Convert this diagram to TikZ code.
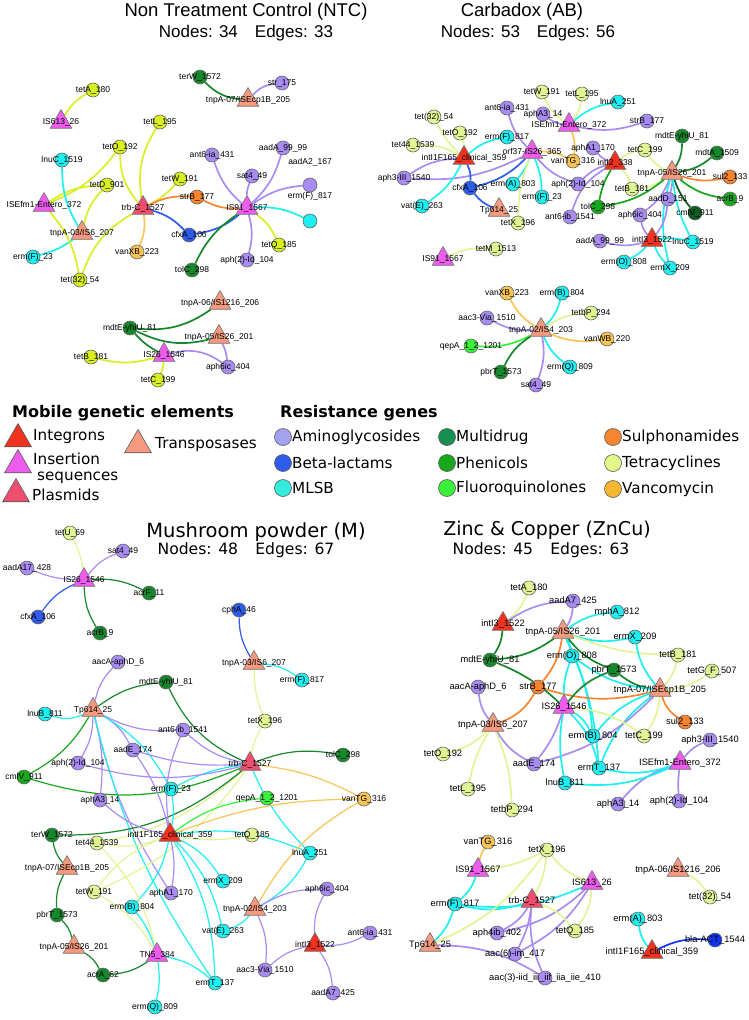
\documentclass[tikz,border=0pt]{standalone}
\usepackage{fontspec}
\setmainfont{Liberation Sans}
\newfontfamily\dvs{DejaVu Sans}
\usetikzlibrary{shapes.geometric,backgrounds}

% gene classes
\definecolor{amg}{HTML}{A88CF2}
\definecolor{bla}{HTML}{2F5BEA}
\definecolor{bltwo}{HTML}{1034F0}
\definecolor{mls}{HTML}{1EEFF0}
\definecolor{mdr}{HTML}{17872C}
\definecolor{dkg}{HTML}{0D5A22}
\definecolor{phe}{HTML}{18A81C}
\definecolor{flq}{HTML}{3AF03A}
\definecolor{sul}{HTML}{F7842F}
\definecolor{tet}{HTML}{E0F595}
\definecolor{tetb}{HTML}{D8EF22}
\definecolor{van}{HTML}{F8C456}
% mobile elements
\definecolor{intg}{HTML}{F0321E}
\definecolor{inseq}{HTML}{EE5CEE}
\definecolor{plas}{HTML}{EE4F6E}
\definecolor{tnp}{HTML}{F59A7E}
% legend
\definecolor{lamg}{HTML}{A3A3F2}
\definecolor{lmls}{HTML}{35EBDD}
\definecolor{lmdr}{HTML}{14904F}
\definecolor{ltet}{HTML}{E3F88B}
\definecolor{lvan}{HTML}{F5B731}

\tikzset{
	gn/.style={circle,draw=black!60,line width=.6pt,minimum size=14pt,inner sep=0pt},
	mge/.style={regular polygon,regular polygon sides=3,draw=black!55,line width=.6pt,minimum size=25pt,inner sep=0pt},
	lb/.style={font=\fontsize{8.5}{9}\selectfont,inner sep=0pt},
	ed/.style={line width=1.7pt},
	ttl/.style={font=\fontsize{18.5}{20}\selectfont},
	cnt/.style={font=\fontsize{17}{18}\selectfont},
	ttlb/.style={font=\dvs\fontsize{19.5}{21}\selectfont},
	cntb/.style={font=\dvs\fontsize{15.6}{17}\selectfont},
	lgh/.style={font=\dvs\bfseries\fontsize{16}{18}\selectfont,anchor=west,inner sep=0pt},
	lgt/.style={font=\dvs\fontsize{15.2}{16}\selectfont,anchor=west,inner sep=0pt,align=left},
	lgc/.style={circle,draw=black!65,line width=.6pt,minimum size=17pt,inner sep=0pt},
	lgm/.style={regular polygon,regular polygon sides=3,draw=black!65,line width=.6pt,minimum size=31pt,inner sep=0pt},
}

\begin{document}
\begin{tikzpicture}[x=1pt,y=-1pt]
	\useasboundingbox (0,0) rectangle (749,1020);

	% Non Treatment Control
	\node[ttl] (ntcT) at (246,12) {Non Treatment Control (NTC)};
	\node[cnt] (ntcN) at (246,33) {Nodes: 34\hspace{1em}Edges: 33};
	\foreach \nm/\x/\y/\col/\lab in {
		nterW/200/77/mdr/terW\_1572, nstr/282/83/amg/str\_175, ntetA/93/90/tetb/tetA\_180,
		ntetL/160/122/tetb/tetL\_195, ntetO/120/147/tetb/tetO\_192, nInuC/62/160/mls/lnuC\_1519,
		nant/212/155/amg/ant6-ia\_431, naadA/283/148/amg/aadA\_99\_99, ntetW/180/179/tetb/tetW\_191,
		nsat/252/176/amg/sat4\_49, ntetD/107/185/tetb/tetD\_901, nstrB/197/197/sul/strB\_177,
		ncfxA/189/235/bla/cfxA\_106, ntetQ/279/245/tetb/tetQ\_185, nvanXB/137/252/van/vanXB\_223,
		nermF/33/257/mls/erm(F)\_23, naph/247/260/amg/aph(2)-Id\_104, ntolC/192/270/mdr/tolC\_298,
		ntet32/80/280/tetb/tet(32)\_54, nmdtE/130/328/mdr/mdtE-yhiU\_81, ntetB/91/357/tetb/tetB\_181,
		naph6/228/367/amg/aph6ic\_404, ntetC/158/380/tetb/tetC\_199}
		\node[gn,fill=\col,label={[lb]center:\lab}] (\nm) at (\x,\y) {};
	\node[gn,fill=amg,label={[lb,yshift=23pt]center:aadA2\_167}] (naadAtwo) at (310,185) {};
	\node[gn,fill=mls,label={[lb,yshift=25pt]center:erm(F)\_817}] (ncyan) at (310,221) {};
	\foreach \nm/\x/\y/\col/\lab in {
		ntnp7/248/100/tnp/{tnpA-07/ISEcp1B\_205}, nIS613/61/122/inseq/IS613\_26,
		nISE/44/205/inseq/ISEfm1-Entero\_372, ntrb/143/208/plas/trb-C\_1527,
		nIS91/247/208/inseq/IS91\_1567, ntnp3/82/233/tnp/{tnpA-03/IS6\_207},
		ntnp6/220/303/tnp/{tnpA-06/IS1216\_206}, ntnp5/219/337/tnp/{tnpA-05/IS26\_201},
		nIS26/164/355/inseq/IS26\_1546}
		\node[mge,fill=\col,label={[lb]center:\lab}] (\nm) at (\x,\y) {};
	\begin{scope}[on background layer]
		\foreach \a/\b/\col/\bd in {
			ntnp7/nterW/mdr/20, ntnp7/nstr/amg/20, nIS613/ntetA/tetb/15, ntrb/ntetO/tetb/20,
			nISE/ntetO/tetb/-15, ntrb/ntetL/tetb/20, ntrb/ntetW/tetb/-10, nISE/ntetD/tetb/15,
			ntnp3/ntetD/tetb/15, ntnp3/nInuC/mls/15, ntnp3/nermF/mls/10, nISE/ntet32/tetb/15,
			ntrb/ntet32/tetb/-20, ntrb/nstrB/sul/15, nIS91/nstrB/sul/15, ntrb/nvanXB/van/15,
			ntrb/ncfxA/bla/15, nIS91/ncfxA/bla/15, nIS91/ntolC/mdr/-15, nIS91/nant/amg/15,
			nIS91/nsat/amg/10, nIS91/naadA/amg/-15, nIS91/naadAtwo/amg/15, nIS91/ncyan/mls/15,
			nIS91/ntetQ/tetb/15, nIS91/naph/amg/15, ntnp6/nmdtE/mdr/20, ntnp5/nmdtE/mdr/20,
			nIS26/nmdtE/mdr/10, nIS26/ntetB/tetb/15, nIS26/ntetC/tetb/10, nIS26/naph6/amg/25,
			ntnp5/naph6/amg/10}
			\draw[ed,draw=\col] (\a) to[bend left=\bd] (\b);
	\end{scope}

	% Carbadox
	\node[ttl] (abT) at (522,12) {Carbadox (AB)};
	\node[cnt] (abN) at (528,33) {Nodes: 53\hspace{1em}Edges: 56};
	\foreach \nm/\x/\y/\col/\lab in {
		atetW/542/92/tet/tetW\_191, atetL/582/94/tet/tetL\_195, aInuA/618/102/mls/lnuA\_251,
		aant/507/108/amg/ant6-ia\_431, aaphA3/543/114/amg/aphA3\_14, atet32/434/117/tet/tet(32)\_54,
		astrB/647/121/amg/strB\_177, atetO/460/133/tet/tetO\_192, aermF8/507/137/mls/erm(F)\_817,
		amdtE/682/136/mdr/mdtE-yhiU\_81, atet44/413/145/tet/tet44\_1539, amdtA/717/153/mdr/mdtA\_1509,
		aaphA1/593/148/amg/aphA1\_170, atetC/645/150/tet/tetC\_199, avanTG/573/161/van/vanTG\_316,
		asul/730/177/sul/sul2\_133, aaph3/404/178/amg/aph3-III\_1540, acfxA/470/188/bla/cfxA\_106,
		aermA/513/184/mls/erm(A)\_803, aaph2/578/184/amg/aph(2)-Id\_104, atetB/632/189/tet/tetB\_181,
		aacrB/730/199/phe/acrB\_9, aaadD/668/199/amg/aadD\_151, aermF2/542/197/mls/erm(F)\_23,
		avatE/422/206/mls/vat(E)\_263, atolC/598/207/phe/tolC\_298, acmlV/695/213/dkg/cmlV\_911,
		aaph6/640/215/amg/aph6ic\_404, atetX/518/223/tet/tetX\_196, aant6b/570/217/amg/ant6-ib\_1541,
		aaadA/600/241/amg/aadA\_99\_99, aInuC/693/242/mls/lnuC\_1519, atetM/496/249/tet/tetM\_1513,
		aermO/624/262/mls/erm(O)\_808, aermX/670/268/mls/ermX\_209, avanXB/507/293/van/vanXB\_223,
		aermB/562/293/mls/erm(B)\_804, atetbP/591/313/tet/tetbP\_294, aaac3/487/318/amg/aac3-Via\_1510,
		avanWB/607/339/van/vanWB\_220, aqepA/471/346/flq/qepA\_1\_2\_1201, aermQ/570/367/mls/erm(Q)\_809,
		apbrT/501/372/mdr/pbrT\_1573, asat/536/385/amg/sat4\_49}
		\node[gn,fill=\col,label={[lb]center:\lab}] (\nm) at (\x,\y) {};
	\foreach \nm/\x/\y/\col/\lab in {
		aISE/569/125/inseq/ISEfm1-Entero\_372, aorf/532/152/inseq/orf37-IS26\_365,
		aint1/464/158/intg/intI1F165\_clinical\_359, aint2/615/163/intg/intI2\_338,
		atnp5/672/173/tnp/{tnpA-05/IS26\_201}, aTp/499/210/tnp/Tp614\_25,
		aint3/652/240/intg/intI3\_1522, aIS91/443/259/inseq/IS91\_1567,
		atnp2/541/330/tnp/{tnpA-02/IS4\_203}}
		\node[mge,fill=\col,label={[lb]center:\lab}] (\nm) at (\x,\y) {};
	\begin{scope}[on background layer]
		\foreach \a/\b/\col/\bd in {
			aISE/atetW/tet/15, aISE/atetL/tet/-15, aISE/aInuA/mls/15, aISE/aaphA3/amg/15,
			aISE/astrB/amg/-15, aISE/avanTG/van/15, aorf/aant/amg/15, aorf/aermA/mls/10,
			aorf/aermF2/mls/10, aorf/acfxA/bla/15, aorf/atetX/tet/-10, aorf/aaph2/amg/-15,
			aorf/avanTG/van/15, aorf/aaph3/amg/15, aint1/atet32/tet/10, aint1/atetO/tet/-10,
			aint1/atet44/tet/-15, aint1/aermF8/mls/15, aint1/aaph3/amg/-15, aint1/acfxA/bla/15,
			aint1/avatE/mls/15, aTp/acfxA/bla/15, aint2/aaphA1/amg/15, aint2/aaph2/amg/-15,
			aint2/atetB/tet/15, aint2/atolC/phe/-10, aint2/atetC/tet/15, aint2/aant6b/amg/-20,
			atnp5/amdtE/mdr/-15, atnp5/amdtA/mdr/-15, atnp5/asul/sul/-15, atnp5/aacrB/phe/-15,
			atnp5/acmlV/dkg/-10, atnp5/aaadD/amg/10, atnp5/atetB/tet/15, atnp5/atolC/phe/15,
			atnp5/aaph6/amg/15, atnp5/aInuC/mls/-10, atnp5/aermX/mls/-15, atnp5/atetC/tet/15,
			aint3/aaadA/amg/15, aint3/aaadD/amg/-15, aint3/aaph6/amg/15, aint3/aInuC/mls/10,
			aint3/aermO/mls/10, aint3/aermX/mls/-10, aIS91/atetM/tet/15, atnp2/avanXB/van/15,
			atnp2/aermB/mls/-15, atnp2/atetbP/tet/15, atnp2/aaac3/amg/15, atnp2/avanWB/van/-15,
			atnp2/aqepA/flq/15, atnp2/aermQ/mls/-15, atnp2/apbrT/mdr/-15, atnp2/asat/amg/15}
			\draw[ed,draw=\col] (\a) to[bend left=\bd] (\b);
	\end{scope}

	% legend
	\node[lgh] (mgeT) at (12,413) {Mobile genetic elements};
	\node[lgh] (resT) at (280,413) {Resistance genes};
	\node[lgm,fill=intg] (lgInt) at (18,439) {};
	\node[lgt] (lgIntT) at (33,437) {Integrons};
	\node[lgm,fill=inseq] (lgIns) at (18,465) {};
	\node[lgt] (lgInsT) at (33,468) {Insertion\\\hspace*{4pt}sequences};
	\node[lgm,fill=plas] (lgPla) at (16,494) {};
	\node[lgt] (lgPlaT) at (32,495) {Plasmids};
	\node[lgm,fill=tnp] (lgTnp) at (138,445) {};
	\node[lgt] (lgTnpT) at (155,445) {Transposases};
	\foreach \nm/\x/\y/\col/\lab in {
		lgA/283/437/lamg/Aminoglycosides, lgB/283/463/bla/Beta-lactams, lgM/283/488/lmls/MLSB,
		lgD/447/437/lmdr/Multidrug, lgP/447/463/phe/Phenicols, lgF/447/488/flq/Fluoroquinolones,
		lgS/613/437/sul/Sulphonamides, lgT/613/463/ltet/Tetracyclines, lgV/613/489/lvan/Vancomycin}
	{
		\node[lgc,fill=\col] (\nm) at (\x,\y) {};
		\node[lgt] at (\x+9,\y) {\lab};
	}

	% Mushroom powder
	\node[ttlb] (mT) at (256,532) {Mushroom powder (M)};
	\node[cntb] (mN) at (246,550) {Nodes: 48\hspace{1.1em}Edges: 67};
	\foreach \nm/\x/\y/\col/\lab in {
		mtetU/70/533/tet/tetU\_69, msat/123/551/amg/sat4\_49, maadA17/27/568/amg/aadA17\_428,
		macrF/149/593/mdr/acrF\_11, mcfxA/38/617/bla/cfxA\_106, mcphA/239/610/bla/cphA\_46,
		macrB/100/633/mdr/acrB\_9, maacA/118/662/amg/aacA-aphD\_6, mmdtE/166/682/mdr/mdtE-yhiU\_81,
		mermF8/302/680/mls/erm(F)\_817, mInuB/45/714/mls/lnuB\_811, mtetX/265/721/tet/tetX\_196,
		mant6b/183/730/amg/ant6-ib\_1541, maadE/133/750/amg/aadE\_174, mtolC/343/755/mdr/tolC\_298,
		maph2/78/763/amg/aph(2)-Id\_104, mcmlV/24/777/phe/cmlV\_911, mermF2/171/789/mls/erm(F)\_23,
		mqepA/267/798/flq/qepA\_1\_2\_1201, mvanTG/364/799/van/vanTG\_316, maphA3/100/800/amg/aphA3\_14,
		mterW/52/835/mdr/terW\_1572, mtet44/97/843/tet/tet44\_1539, mtetQ/252/835/tet/tetQ\_185,
		mInuA/310/853/mls/lnuA\_251, mermX/223/881/mls/ermX\_209, maph6/327/889/amg/aph6ic\_404,
		mtetW/94/892/tet/tetW\_191, maphA1/171/893/amg/aphA1\_170, mermB/132/907/mls/erm(B)\_804,
		mpbrT/57/915/mdr/pbrT\_1573, mvatE/223/931/mls/vat(E)\_263, mant6a/370/933/amg/ant6-ia\_431,
		macrA/103/975/mdr/acrA\_62, maac3/265/970/amg/aac3-Via\_1510, mermT/215/983/mls/ermT\_137,
		maadA7/333/993/amg/aadA7\_425, mermQ/155/1007/mls/erm(Q)\_809}
		\node[gn,fill=\col,label={[lb]center:\lab}] (\nm) at (\x,\y) {};
	\foreach \nm/\x/\y/\col/\lab in {
		mIS26/84/580/inseq/IS26\_1546, mtnp3/254/663/tnp/{tnpA-03/IS6\_207}, mTp/93/710/tnp/Tp614\_25,
		mtrb/250/764/plas/trb-C\_1527, mint1/170/835/intg/intI1F165\_clinical\_359,
		mtnp7/67/868/tnp/{tnpA-07/ISEcp1B\_205}, mtnp2/255/909/tnp/{tnpA-02/IS4\_203},
		mtnp5/74/947/tnp/{tnpA-05/IS26\_201}, mint3/315/945/intg/intI3\_1522, mTN5/157/955/inseq/TN5\_384}
		\node[mge,fill=\col,label={[lb]center:\lab}] (\nm) at (\x,\y) {};
	\begin{scope}[on background layer,ed/.append style={line width=1.2pt}]
		\foreach \a/\b/\col/\bd in {
			mIS26/mtetU/tet/-10, mIS26/msat/amg/15, mIS26/maadA17/amg/10, mIS26/macrF/mdr/15,
			mIS26/mcfxA/bla/-15, mIS26/macrB/mdr/-15, mtnp3/mcphA/bla/15, mtnp3/mermF8/mls/15,
			mtnp3/mtetX/tet/-10, mTp/maacA/amg/15, mTp/mmdtE/mdr/15, mTp/mInuB/mls/20,
			mTp/mcmlV/phe/15, mTp/maph2/amg/15, mTp/maadE/amg/15, mTp/mant6b/amg/-15,
			mTp/mermF2/mls/15, mTp/maphA3/amg/10, mTp/maphA1/amg/-10, mTp/mermT/mls/-10,
			mtrb/mmdtE/mdr/20, mtrb/mtetX/tet/10, mtrb/mtolC/mdr/15, mtrb/mant6b/amg/15,
			mtrb/maadE/amg/10, mtrb/mcmlV/phe/20, mtrb/mermF2/mls/-10, mtrb/mvanTG/van/10,
			mtrb/mtet44/tet/15, mtrb/mtetW/tet/15, mtrb/mInuA/mls/-10, mtrb/mterW/mdr/20,
			mtrb/maph2/amg/15, mint1/maphA3/amg/15, mint1/mtet44/tet/15, mint1/mtetQ/tet/-10,
			mint1/mqepA/flq/15, mint1/mvanTG/van/10, mint1/mInuA/mls/15, mint1/mermX/mls/15,
			mint1/mvatE/mls/15, mint1/mermT/mls/15, mint1/maphA1/amg/10, mint1/mermB/mls/15,
			mint1/mtetW/tet/-15, mint1/mant6b/amg/15, mint1/maadE/amg/-10, mint1/mermF2/mls/-10,
			mtnp7/mterW/mdr/15, mtnp7/mpbrT/mdr/-15, mtnp5/mpbrT/mdr/-15, mtnp5/macrA/mdr/15,
			mTN5/macrA/mdr/15, mTN5/mermQ/mls/10, mTN5/mermT/mls/15, mTN5/mermB/mls/-10,
			mTN5/mtetW/tet/-15, mTN5/mtet44/tet/-15, mtnp2/mInuA/mls/-15, mtnp2/mvanTG/van/15,
			mtnp2/maph6/amg/15, mtnp2/maac3/amg/15, mtnp2/mvatE/mls/15, mint3/maac3/amg/-15,
			mint3/mant6a/amg/-15, mint3/maadA7/amg/15, mint3/maph6/amg/15}
			\draw[ed,draw=\col] (\a) to[bend left=\bd] (\b);
	\end{scope}

	% Zinc & Copper
	\node[ttlb,font=\dvs\fontsize{19}{21}\selectfont] (zT) at (547,530) {Zinc \& Copper (ZnCu)};
	\node[cntb] (zN) at (541,550) {Nodes: 45\hspace{1.1em}Edges: 63};
	\foreach \nm/\x/\y/\col/\lab in {
		ztetA/529/588/tet/tetA\_180, zaadA7/573/601/amg/aadA7\_425, zmphA/617/612/mls/mphA\_812,
		zermX/635/637/mls/ermX\_209, zmdtE/490/660/mdr/mdtE-yhiU\_81, zermO/572/656/mls/erm(O)\_808,
		ztetB/678/655/tet/tetB\_181, zpbrT/614/670/mdr/pbrT\_1573, ztetG/712/671/tet/tetG\_F\_507,
		zstrB/538/687/sul/strB\_177, zaacA/478/687/amg/aacA-aphD\_6, zsul/685/722/sul/sul2\_133,
		zermB/593/736/mls/erm(B)\_804, ztetC/644/736/tet/tetC\_199, zaph3/710/740/amg/aph3-III\_1540,
		ztetO/443/754/tet/tetO\_192, zaadE/534/764/amg/aadE\_174, zermT/599/768/mls/ermT\_137,
		zInuB/565/783/mls/lnuB\_811, ztetL/468/789/tet/tetL\_195, zaphA3/618/804/amg/aphA3\_14,
		zaph2/679/801/amg/aph(2)-Id\_104, ztetbP/512/810/tet/tetbP\_294, zvanTG/488/842/van/vanTG\_316,
		ztetX/547/850/tet/tetX\_196, zermF8/455/904/mls/erm(F)\_817, ztet32/710/897/tet/tet(32)\_54,
		zermA/638/919/mls/erm(A)\_803, ztetQ/575/931/tet/tetQ\_185, zaph4/497/933/amg/aph4ib\_402,
		zbla/715/940/bltwo/bla-ACT\_1544, zaac6/515/954/amg/aac(6)-im\_417,
		zaac3/545/978/amg/aac(3)-iid\_iii\_iif\_iia\_iie\_410}
		\node[gn,fill=\col,label={[lb,font=\fontsize{9.3}{10}\selectfont]center:\lab}] (\nm) at (\x,\y) {};
	\foreach \nm/\x/\y/\col/\lab in {
		zint3/503/624/intg/intI3\_1522, ztnp5/563/632/tnp/{tnpA-05/IS26\_201},
		ztnp7/660/690/tnp/{tnpA-07/ISEcp1B\_205}, zIS26/564/707/inseq/IS26\_1546,
		ztnp3/493/725/tnp/{tnpA-03/IS6\_207}, zISE/680/763/inseq/ISEfm1-Entero\_372,
		zIS91/478/870/inseq/IS91\_1567, ztnp6/678/870/tnp/{tnpA-06/IS1216\_206},
		zIS613/592/883/inseq/IS613\_26, ztrb/532/901/plas/trb-C\_1527, zTp/430/945/tnp/Tp614\_25,
		zint1/652/952/intg/intI1F165\_clinical\_359}
		\node[mge,fill=\col,label={[lb,font=\fontsize{9.3}{10}\selectfont]center:\lab}] (\nm) at (\x,\y) {};
	\begin{scope}[on background layer]
		\foreach \a/\b/\col/\bd in {
			zint3/ztetA/tet/-15, zint3/zaadA7/amg/15, zint3/zmdtE/mdr/15, ztnp5/zaadA7/amg/-15,
			ztnp5/zmphA/mls/15, ztnp5/zermX/mls/-15, ztnp5/zermO/mls/10, ztnp5/zpbrT/mdr/-15,
			ztnp5/zstrB/sul/15, ztnp5/ztetB/tet/-10, ztnp5/zmdtE/mdr/15, ztnp5/zermB/mls/10,
			ztnp5/zermT/mls/10, ztnp7/zpbrT/mdr/15, ztnp7/zstrB/sul/15, ztnp7/ztetB/tet/-15,
			ztnp7/ztetG/tet/-15, ztnp7/zsul/sul/-20, ztnp7/ztetC/tet/15, ztnp7/zermX/mls/15,
			ztnp7/zermB/mls/-15, ztnp7/zermT/mls/-15, ztnp7/zaadE/amg/15, ztnp7/zermO/mls/15,
			zIS26/zmdtE/mdr/-10, zIS26/zpbrT/mdr/15, zIS26/zermO/mls/10, zIS26/zermB/mls/15,
			zIS26/ztetC/tet/15, zIS26/zInuB/mls/-10, zIS26/zermT/mls/15, zIS26/zaadE/amg/10,
			ztnp3/zstrB/sul/-20, ztnp3/zaacA/amg/15, ztnp3/ztetO/tet/15, ztnp3/zaadE/amg/-15,
			ztnp3/ztetL/tet/-10, ztnp3/ztetbP/tet/10, zISE/zaph3/amg/15, zISE/zaphA3/amg/-15,
			zISE/zaph2/amg/-5, zISE/zermT/mls/15, zISE/zInuB/mls/15, zIS91/zvanTG/van/10,
			zIS91/ztetX/tet/-10, zIS91/zermF8/mls/15, zIS613/ztetX/tet/15, zIS613/zermF8/mls/15,
			zIS613/ztetQ/tet/15, zIS613/zaph4/amg/15, zIS613/zaac6/amg/15, ztrb/ztetX/tet/-10,
			ztrb/zermF8/mls/15, ztrb/ztetQ/tet/15, ztrb/zaph4/amg/15, ztrb/zaac6/amg/10,
			ztrb/zaac3/amg/-15, zTp/ztetX/tet/-15, zTp/zermF8/mls/-15, zTp/zaac3/amg/15,
			ztnp6/ztet32/tet/15, zint1/zermA/mls/15, zint1/zbla/bltwo/15}
			\draw[ed,draw=\col] (\a) to[bend left=\bd] (\b);
	\end{scope}
\end{tikzpicture}
\end{document}
